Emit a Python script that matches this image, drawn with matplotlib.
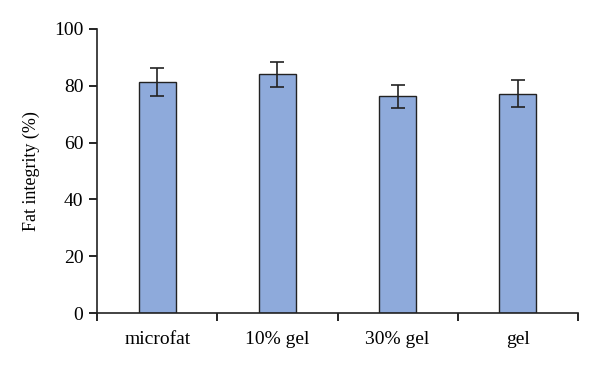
import matplotlib
matplotlib.use('Agg')
import matplotlib.pyplot as plt
import numpy as np

groups = ['microfat', '10% gel', '30% gel', 'gel']
integrity = [81.2, 84.0, 76.3, 77.2]
errors = [5.0, 4.5, 4.0, 4.7]

plt.rcParams['font.family'] = ['Liberation Serif', 'DejaVu Serif']

fig = plt.figure(figsize=(6, 3.7), dpi=100)
ax = fig.add_axes([0.162, 0.154, 0.801, 0.768])

x = np.arange(len(groups))
ax.bar(x, integrity, width=0.31, color='#8eaadb', edgecolor='#222222', linewidth=1.0,
       yerr=errors, error_kw=dict(ecolor='#222222', elinewidth=1.2, capsize=5, capthick=1.2))

ax.set_xlim(-0.5, len(groups) - 0.5)
ax.set_ylim(0, 100)
ax.set_yticks([0, 20, 40, 60, 80, 100])
ax.set_xticks(x)
ax.set_xticklabels(groups)
ax.set_xticks(np.arange(len(groups) + 1) - 0.5, minor=True)
ax.tick_params(axis='x', which='major', length=0, pad=13, labelsize=14)
ax.tick_params(axis='x', which='minor', length=6, width=1.2, direction='out')
ax.tick_params(axis='y', length=6, width=1.2, labelsize=14, pad=4)
ax.set_ylabel('Fat integrity (%)', fontsize=13, labelpad=10)

for s in ['top', 'right']:
    ax.spines[s].set_visible(False)
for s in ['left', 'bottom']:
    ax.spines[s].set_linewidth(1.2)
    ax.spines[s].set_color('#222222')

fig.savefig('out.png', dpi=100)
